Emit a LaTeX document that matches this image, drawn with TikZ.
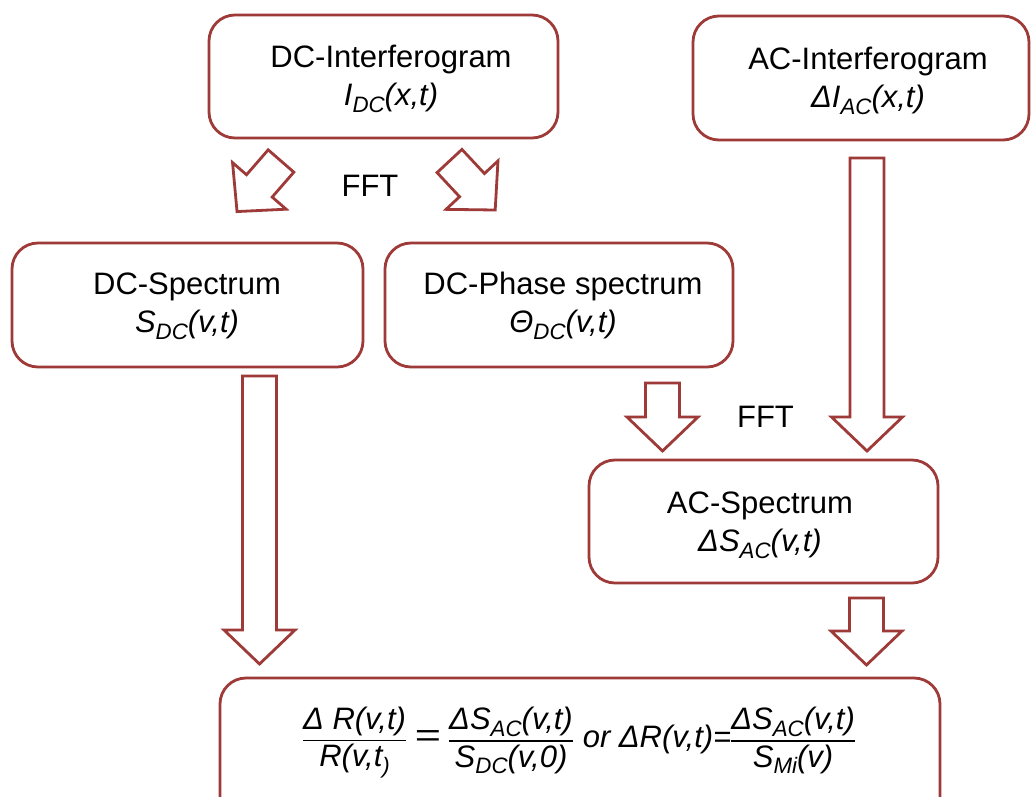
\documentclass[tikz,border=0pt]{standalone}
\usepackage{fontspec}
\setmainfont{Liberation Sans}
\usepackage{graphicx}
\definecolor{brd}{RGB}{158,58,56}
\newcommand\sbs[1]{\raisebox{-0.22em}{\scalebox{0.72}{#1}}}
\newcommand\myfr[2]{\begin{tabular}[c]{@{}c@{}}#1\\\hline #2\end{tabular}}
\setlength\arrayrulewidth{1.6pt}
\tikzset{
  box/.style={draw=brd, line width=2.8pt, rounded corners=26pt, fill=white},
  lbl/.style={align=center, font=\fontsize{31}{38}\selectfont, inner sep=0pt},
  arr/.style={draw=brd, line width=2.8pt, fill=white, line join=miter},
  barrow/.pic={\path[arr] (-17,0) -- (-17,#1) -- (-35.5,#1) -- (0,#1+34) -- (35.5,#1) -- (17,#1) -- (17,0) -- cycle;}
}
\begin{document}
\begin{tikzpicture}[x=1pt,y=-1pt]
\useasboundingbox[fill=white] (0,0) rectangle (1031,796);
% boxes
\node[box, minimum width=349pt, minimum height=123pt] (dci) at (383.5,76.5) {};
\node[box, minimum width=336pt, minimum height=124pt] (aci) at (861,78) {};
\node[box, minimum width=351pt, minimum height=124pt] (dcs) at (187.5,305) {};
\node[box, minimum width=348pt, minimum height=124pt] (dcp) at (559,305) {};
\node[box, minimum width=349pt, minimum height=123pt] (acs) at (763.5,521.5) {};
\node[box, minimum width=720pt, minimum height=152pt] (res) at (580,754) {};
% labels
\node[lbl] (tdci) at (391,79) {DC-Interferogram\\{\itshape I\sbs{DC}(x,t)}};
\node[lbl] (taci) at (868,81) {AC-Interferogram\\{\itshape ΔI\sbs{AC}(x,t)}};
\node[lbl] (tdcs) at (187,306) {DC-Spectrum\\{\itshape S\sbs{DC}(v,t)}};
\node[lbl] (tdcp) at (563,306) {DC-Phase spectrum\\{\itshape Θ\sbs{DC}(v,t)}};
\node[lbl] (tacs) at (760,525) {AC-Spectrum\\{\itshape ΔS\sbs{AC}(v,t)}};
\node[lbl] (fft1) at (370,186) {FFT};
\node[lbl] (fft2) at (765.5,417) {FFT};
\node[inner sep=0pt, font=\fontsize{31}{36}\selectfont] (eq) at (579,741)
 {\myfr{\itshape Δ R(v,t)}{\itshape R(v,t\sbs{)}}\hspace{9pt}\raisebox{1pt}{\scalebox{1.45}[1.05]{=}}\hspace{8pt}\myfr{\itshape ΔS\sbs{AC}(v,t)}{\itshape S\sbs{DC}(v,0)}\hspace{10pt}{\itshape or ΔR(v,t)=}\myfr{\itshape ΔS\sbs{AC}(v,t)}{\itshape S\sbs{Mi}(v)}};
% block arrows
\pic[rotate=-41] at (281,161) {barrow=33};
\pic[rotate=43] at (449.5,161) {barrow=33};
\pic at (259.5,376) {barrow=254};
\pic at (867,158) {barrow=259};
\pic at (662.5,383) {barrow=34};
\pic at (866.5,598) {barrow=33};
\end{tikzpicture}
\end{document}
